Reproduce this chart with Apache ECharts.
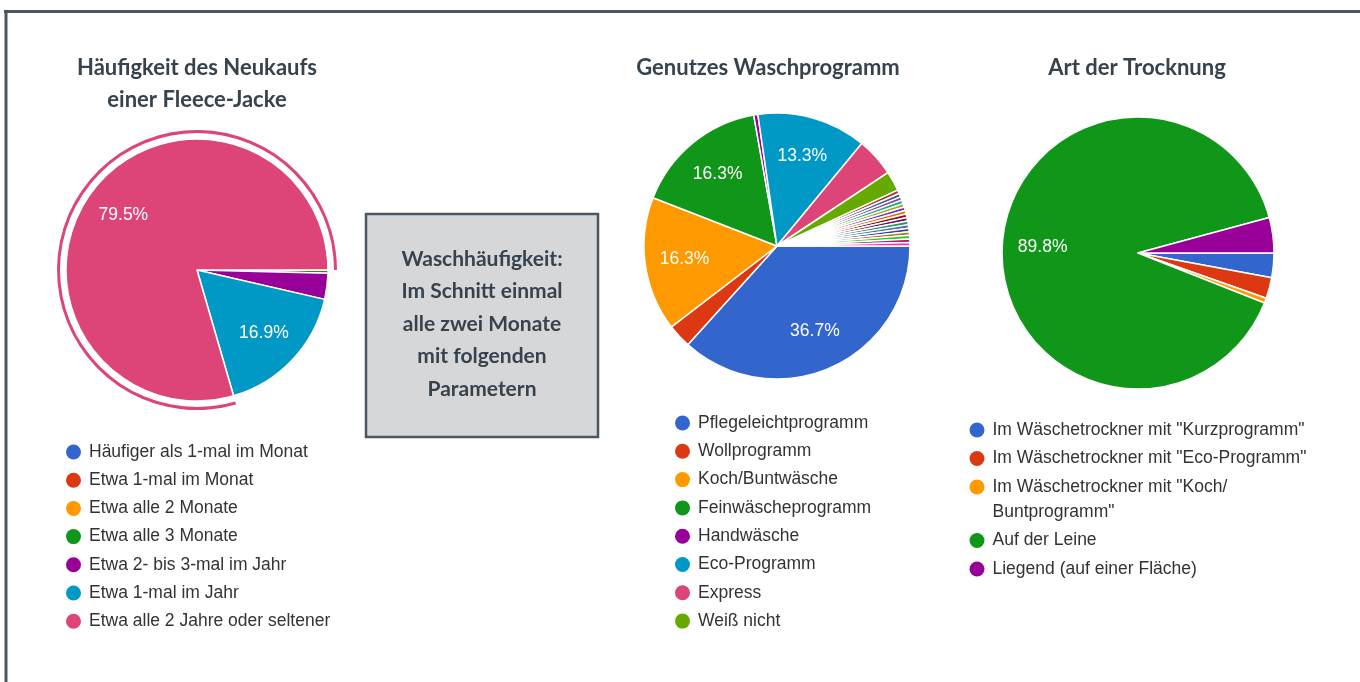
<!DOCTYPE html>
<html lang="de">
<head>
<meta charset="UTF-8">
<title>Fleece-Jacke</title>
<style>
  *{margin:0;padding:0;}
  html,body{width:100%;height:100%;background:#fff;}
  #main{width:1360px;height:682px;}
</style>
</head>
<body>
<div id="main"></div>
<script src="https://cdn.jsdelivr.net/npm/echarts@6/dist/echarts.min.js"></script>
<script>
// Häufigkeit des Neukaufs (in %)
const neukaufNames = ['Häufiger als 1-mal im Monat', 'Etwa 1-mal im Monat', 'Etwa alle 2 Monate',
  'Etwa alle 3 Monate', 'Etwa 2- bis 3-mal im Jahr', 'Etwa 1-mal im Jahr', 'Etwa alle 2 Jahre oder seltener'];
const neukaufValues = [0, 0, 0, 0.4, 3.2, 16.9, 79.5];
const neukaufHighlight = 'Etwa alle 2 Jahre oder seltener';

// Genutztes Waschprogramm (in %)
const programmNames = ['Pflegeleichtprogramm', 'Wollprogramm', 'Koch/Buntwäsche', 'Feinwäscheprogramm',
  'Handwäsche', 'Eco-Programm', 'Express', 'Weiß nicht'];
const programmValues = [36.7, 2.9, 16.3, 16.3, 0.5, 13.3, 4.7, 2.4];
// kleine Einzelantworten (nicht in der Legende)
const programmOtherNames = ['Sonstiges 1', 'Sonstiges 2', 'Sonstiges 3', 'Sonstiges 4', 'Sonstiges 5', 'Sonstiges 6',
  'Sonstiges 7', 'Sonstiges 8', 'Sonstiges 9', 'Sonstiges 10', 'Sonstiges 11', 'Sonstiges 12', 'Sonstiges 13',
  'Sonstiges 14', 'Sonstiges 15', 'Sonstiges 16'];
const programmOtherValues = [0.45, 0.43, 0.42, 0.44, 0.43, 0.42, 0.45, 0.43, 0.42, 0.44, 0.43, 0.42, 0.44, 0.43, 0.42, 0.43];

// Art der Trocknung (in %)
const trocknungNames = ['Im Wäschetrockner mit "Kurzprogramm"', 'Im Wäschetrockner mit "Eco-Programm"',
  'Im Wäschetrockner mit "Koch/Buntprogramm"', 'Auf der Leine', 'Liegend (auf einer Fläche)'];
const trocknungValues = [2.9, 2.5, 0.6, 89.8, 4.2];

const palette = ['#3366cc', '#dc3912', '#ff9900', '#109618', '#990099', '#0099c6', '#dd4477', '#66aa00',
  '#b82e2e', '#316395', '#994499', '#22aa99', '#aaaa11', '#6633cc', '#e67300', '#8b0707', '#651067',
  '#329262', '#5574a6', '#3b3eac', '#b77322', '#16d620', '#b91383', '#f4359e'];

const dark = '#36434d';
const titleFont = {fontFamily: 'Lato', fontWeight: 'bold', fontSize: 22, color: dark, lineHeight: 32};
const legendFont = {fontFamily: 'Liberation Sans', fontSize: 17.5, color: '#333', lineHeight: 25};

function pieData(names, values) {
  return names.map((n, i) => ({name: n, value: values[i], itemStyle: {color: palette[i]}}));
}

function mainPie(center, r, data) {
  return {
    type: 'pie', center: center, radius: [0, r], startAngle: 0, clockwise: true,
    avoidLabelOverlap: false, silent: true, data: data,
    itemStyle: {borderColor: '#fff', borderWidth: 1.5},
    label: {show: false}, labelLine: {show: false}, emphasis: {disabled: true}
  };
}

// transparente Ebene, nur für die Prozentbeschriftung weiter außen
function labelPie(center, r, data) {
  return {
    type: 'pie', center: center, radius: [r * 0.36, r], startAngle: 0, clockwise: true,
    avoidLabelOverlap: false, silent: true,
    data: data.map(d => ({name: d.name, value: d.value})),
    itemStyle: {color: 'rgba(0,0,0,0)'},
    label: {
      show: true, position: 'inside', color: '#fff', fontFamily: 'Liberation Sans', fontSize: 17.5,
      formatter: p => p.value >= 5 ? p.value.toFixed(1) + '%' : ''
    },
    labelLine: {show: false}, emphasis: {disabled: true}
  };
}

const neukaufData = pieData(neukaufNames, neukaufValues);
const programmData = pieData(programmNames.concat(programmOtherNames), programmValues.concat(programmOtherValues));
const trocknungData = pieData(trocknungNames, trocknungValues);

const c1 = [197, 270], r1 = 131;
const c2 = [777, 246], r2 = 133;
const c3 = [1138, 253], r3 = 136;

const legendBase = {
  orient: 'vertical', icon: 'circle', itemWidth: 21, itemHeight: 15, padding: 0,
  selectedMode: false, itemStyle: {borderWidth: 0}, textStyle: legendFont
};

const option = {
  animation: false,
  title: [
    {text: 'Häufigkeit des Neukaufs\neiner Fleece-Jacke', left: 197, top: 52, padding: 0, textAlign: 'center', textStyle: titleFont},
    {text: 'Genutzes Waschprogramm', left: 768, top: 52, padding: 0, textAlign: 'center', textStyle: titleFont},
    {text: 'Art der Trocknung', left: 1137, top: 52, padding: 0, textAlign: 'center', textStyle: titleFont}
  ],
  legend: [
    Object.assign({}, legendBase, {left: 66, top: 439.5, itemGap: 3.2, data: neukaufNames}),
    Object.assign({}, legendBase, {left: 675, top: 410.5, itemGap: 3.3, data: programmNames}),
    Object.assign({}, legendBase, {left: 969.5, top: 417.5, itemGap: 3.5, data: trocknungNames.slice(0, 2)}),
    // zweizeiliger Eintrag: leere Zeile oben, damit der Punkt auf der ersten Textzeile sitzt
    Object.assign({}, legendBase, {left: 969.5, top: 449.5, itemGap: 3.5, data: trocknungNames.slice(2),
      formatter: name => name.indexOf('Koch/') >= 0 ? ' \n' + name.replace('Koch/', 'Koch/\n') : name})
  ],
  series: [
    mainPie(c1, r1, neukaufData),
    mainPie(c2, r2, programmData),
    mainPie(c3, r3, trocknungData),
    {
      type: 'pie', center: c1, radius: [r1 + 6, r1 + 9], startAngle: 0, clockwise: true, silent: true,
      data: neukaufNames.map((n, i) => ({
        name: n, value: neukaufValues[i],
        itemStyle: {color: n === neukaufHighlight ? palette[i] : 'rgba(0,0,0,0)'}
      })),
      label: {show: false}, labelLine: {show: false}, emphasis: {disabled: true}
    },
    labelPie(c1, r1, neukaufData),
    labelPie(c2, r2, programmData),
    labelPie(c3, r3, trocknungData)
  ],
  graphic: [
    {type: 'line', shape: {x1: 4, y1: 11.5, x2: 1360, y2: 11.5}, style: {stroke: '#4b5760', lineWidth: 3}},
    {type: 'line', shape: {x1: 6, y1: 10, x2: 6, y2: 682}, style: {stroke: '#4b5760', lineWidth: 3}},
    {type: 'rect', shape: {x: 366, y: 214, width: 232, height: 223},
      style: {fill: '#d5d7d9', stroke: '#4b5760', lineWidth: 2.5}},
    {type: 'text', x: 482, y: 324,
      style: {text: 'Waschhäufigkeit:\nIm Schnitt einmal\nalle zwei Monate\nmit folgenden\nParametern',
        align: 'center', verticalAlign: 'middle', fill: dark, fontFamily: 'Lato', fontWeight: 'bold',
        fontSize: 21, lineHeight: 32.5}}
  ]
};

echarts.init(document.getElementById('main')).setOption(option);
</script>
</body>
</html>
